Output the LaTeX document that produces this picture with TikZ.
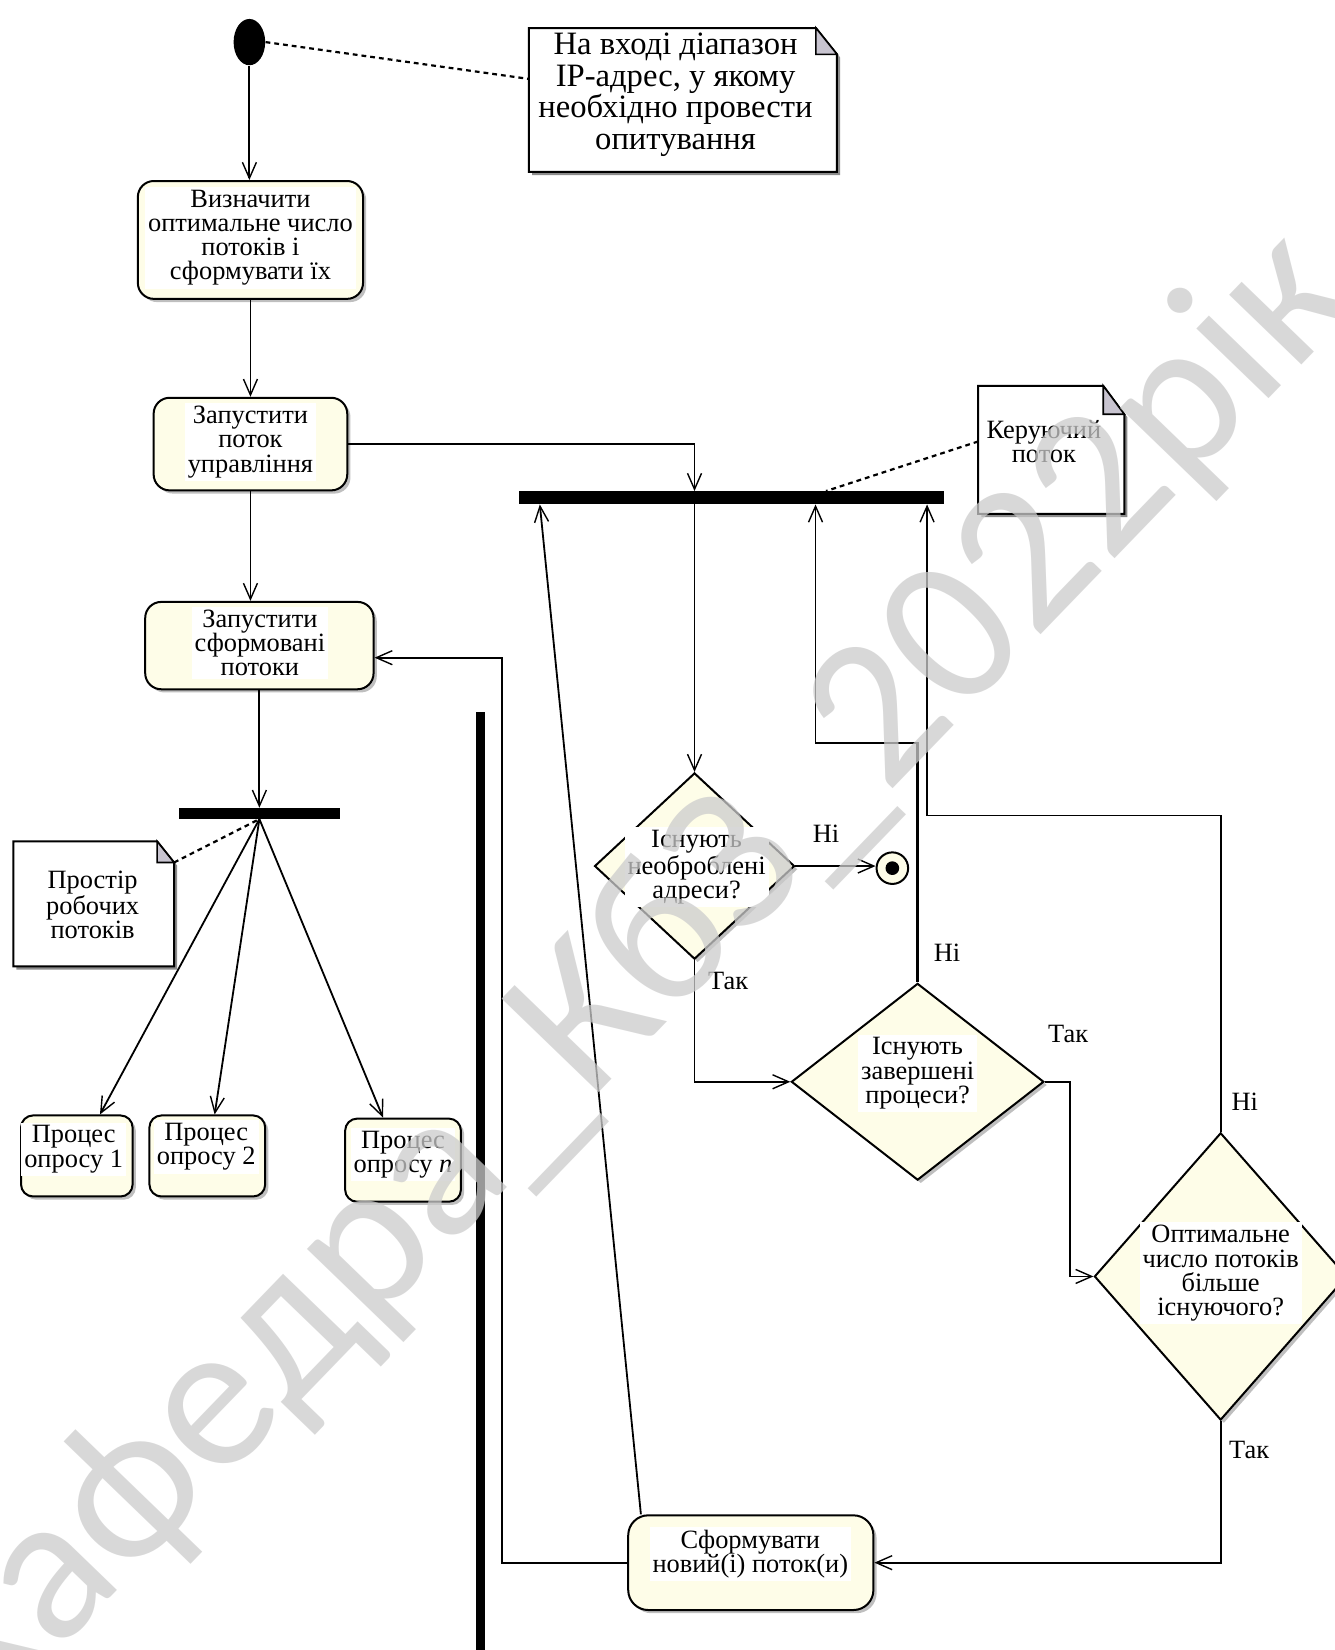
\documentclass[tikz,border=0pt]{standalone}
\usepackage{fontspec}
\setmainfont{Liberation Serif}
\newfontfamily\wmfont{Carlito}
\usetikzlibrary{arrows.meta,shapes.geometric,shadows,calc,fit}

\definecolor{cream}{RGB}{254,253,232}
\definecolor{foldgray}{RGB}{200,196,208}
\definecolor{wmgray}{RGB}{204,204,204}

% one picture unit in absolute length
\def\uu{0.526pt}

\tikzset{
  flow/.style={draw, line width=0.9pt,
    -{Straight Barb[length=8pt,width=7pt,line width=0.7pt]}},
  thickwire/.style={draw, line width=1.8pt},
  notelink/.style={draw, line width=1.1pt, dash pattern=on 2.4pt off 2pt},
  boxshadow/.style={drop shadow={shadow xshift=1.6pt, shadow yshift=-1.6pt, fill=black!50}},
  actbox/.style={draw, line width=1pt, fill=cream, rounded corners=8pt,
    inner sep=0pt, boxshadow},
  procbox/.style={actbox, rounded corners=6pt},
  decision/.style={diamond, draw, line width=1pt, fill=cream, inner sep=0pt, boxshadow},
  syncbar/.style={fill=black, inner sep=0pt},
  noteframe/.style={inner sep=0pt},
  txt/.style={fill=white, inner sep=1.5pt, align=center,
    font=\fontsize{13.2pt}{12.1pt}\selectfont},
  notetxt/.style={inner sep=0pt, align=center,
    font=\fontsize{16.3pt}{15.8pt}\selectfont},
  lab/.style={inner sep=0pt, font=\fontsize{13.2pt}{12pt}\selectfont},
  watermark/.style={inner sep=0pt, text=wmgray, text opacity=0.75,
    font=\wmfont\fontsize{105pt}{105pt}\selectfont},
}

% UML note: name, fold width, fold height
\newcommand\notepaper[3]{%
  \path[fill=black!45] ($(#1.north west)+(3,3)$) -- ($(#1.north east)+(-#2+3,3)$)
    -- ($(#1.north east)+(3,#3+3)$) -- ($(#1.south east)+(3,3)$)
    -- ($(#1.south west)+(3,3)$) -- cycle;
  \draw[line width=1pt, fill=white] (#1.north west) -- ($(#1.north east)+(-#2,0)$)
    -- ($(#1.north east)+(0,#3)$) -- (#1.south east) -- (#1.south west) -- cycle;
  \draw[line width=0.8pt, fill=foldgray] ($(#1.north east)+(-#2,0)$)
    -- ($(#1.north east)+(-#2,#3)$) -- ($(#1.north east)+(0,#3)$) -- cycle;
}

\begin{document}
\begin{tikzpicture}[x=0.526pt, y=-0.526pt]
\useasboundingbox[fill=white] (0,0) rectangle (1268,1568);

% ---- notes ----
\node[noteframe, fit={(503,27)(795,163)}] (n1) {};
\node[noteframe, fit={(13,800)(165,918)}] (n2) {};
\node[noteframe, fit={(930,367)(1068,488)}] (n3) {};
\notepaper{n1}{20}{25}
\notepaper{n2}{16}{20}
\notepaper{n3}{20}{27}

% ---- activity nodes ----
\node[ellipse, fill=black, minimum width=30*\uu, minimum height=44*\uu, inner sep=0pt] (start) at (237,40) {};
\node[actbox, fit={(131,172)(345,284)}] (b1) {};
\node[actbox, fit={(146,378)(330,466)}] (b2) {};
\node[actbox, fit={(138,572)(355,655)}] (b3) {};
\node[procbox, fit={(20,1060)(126,1137)}] (p1) {};
\node[procbox, fit={(142,1060)(252,1137)}] (p2) {};
\node[procbox, fit={(328,1063)(438,1142)}] (pn) {};
\node[actbox, rounded corners=10pt, fit={(597,1440)(830,1530)}] (b5) {};

\node[decision, minimum width=190*\uu, minimum height=177*\uu] (d1) at (660,823) {};
\node[decision, minimum width=240*\uu, minimum height=187*\uu] (d2) at (872,1028) {};
\node[decision, minimum width=240*\uu, minimum height=273*\uu] (d3) at (1160,1213) {};

\node[circle, draw, line width=1pt, fill=cream, minimum size=30*\uu, inner sep=0pt] (fin) at (848,825) {};
\node[circle, fill=black, minimum size=13*\uu, inner sep=0pt] (findot) at (fin) {};

% ---- synchronisation bars ----
\node[syncbar, fit={(170,768)(323,778)}] (bar1) {};
\node[syncbar, fit={(493,467)(897,479)}] (bar2) {};
\node[syncbar, fit={(452,677)(461,1580)}] (vbar) {};

% ---- bend points ----
\coordinate (k1) at (775,706);
\coordinate (k2) at (1017,1025);
\coordinate (k3) at (881,775);
\coordinate (k4) at (513,0);
\coordinate (k5) at (477,625);
\coordinate (k6) at (785,0);

% ---- note links ----
\draw[notelink] (start.east) -- ($(n1.west)+(0,-20)$);
\draw[notelink] ($(n2.north east)+(0,20)$) -- (bar1.south);
\draw[notelink] ($(n3.west)+(0,-8)$) -- (bar2.north -| k6);

% ---- control flow ----
\draw[flow] (start.south) -- (start.south |- b1.north);
\draw[flow] (b1.south) -- (b2.north);
\draw[flow] (b2.south) -- (b2.south |- b3.north);
\draw[flow] (b3.south) -- (b3.south |- bar1.north);
\draw[flow] (bar1.south) -- ($(p1.north)+(22,0)$);
\draw[flow] (bar1.south) -- ($(p2.north)+(7,0)$);
\draw[flow] (bar1.south) -- ($(pn.north)+(-19,0)$);

\draw[flow] (b2.east) -| (bar2.north -| d1.north);
\draw[flow] (bar2.south -| d1.north) -- (d1.north);
\draw[flow] (d1.east) -- (d1.east -| fin.west);
\draw[flow] (d1.south) |- (d2.west);
\draw[thickwire] (d2.north) -- (d2.north |- k1);
\draw[flow] (d2.north) |- (k1) -- (k1 |- bar2.south);
\draw[flow] (d2.east) -- (d2.east -| k2) |- (d3.west);
\draw[flow] (d3.north) |- (k3) -- (k3 |- bar2.south);
\draw[flow] (d3.south) |- (b5.east);
\draw[flow] ($(b5.north west)+(13,0)$) -- (bar2.south -| k4);
\draw[flow] (b5.west) -| (k5) -- (k5 -| b3.east);

% ---- texts ----
\node[notetxt] (n1t) at (642,90) {На вході діапазон\\IP-адрес, у якому\\необхідно провести\\опитування};
\node[txt, fill=none] (n2t) at (88,860) {Простір\\робочих\\потоків};
\node[txt, fill=none] (n3t) at (992,420) {Керуючий\\поток};

\node[txt] (b1t) at (238,226) {Визначити\\оптимальне число\\потоків і\\сформувати їх};
\node[txt] (b2t) at (238,420) {Запустити\\поток\\управління};
\node[txt] (b3t) at (247,611) {Запустити\\сформовані\\потоки};
\node[txt] (p1t) at (70,1092) {Процес\\опросу 1};
\node[txt] (p2t) at (196,1090) {Процес\\опросу 2};
\node[txt] (pnt) at (383,1097) {Процес\\опросу \textit{n}};
\node[txt] (d1t) at (662,824) {Існують\\необроблені\\адреси?};
\node[txt] (d2t) at (872,1020) {Існують\\завершені\\процеси?};
\node[txt] (d3t) at (1160,1210) {Оптимальне\\число потоків\\більше\\існуючого?};
\node[txt] (b5t) at (713,1477) {Сформувати\\новий(і) поток(и)};

\node[lab] (l1) at (785,792) {Ні};
\node[lab] (l2) at (692,932) {Так};
\node[lab] (l3) at (900,905) {Ні};
\node[lab] (l4) at (1015,983) {Так};
\node[lab] (l5) at (1183,1047) {Ні};
\node[lab] (l6) at (1187,1378) {Так};

% ---- watermark ----
\node[watermark, rotate=46] (wm) at (598,933) {Кафедра\_КбЗ\_2022рік};
\end{tikzpicture}
\end{document}
